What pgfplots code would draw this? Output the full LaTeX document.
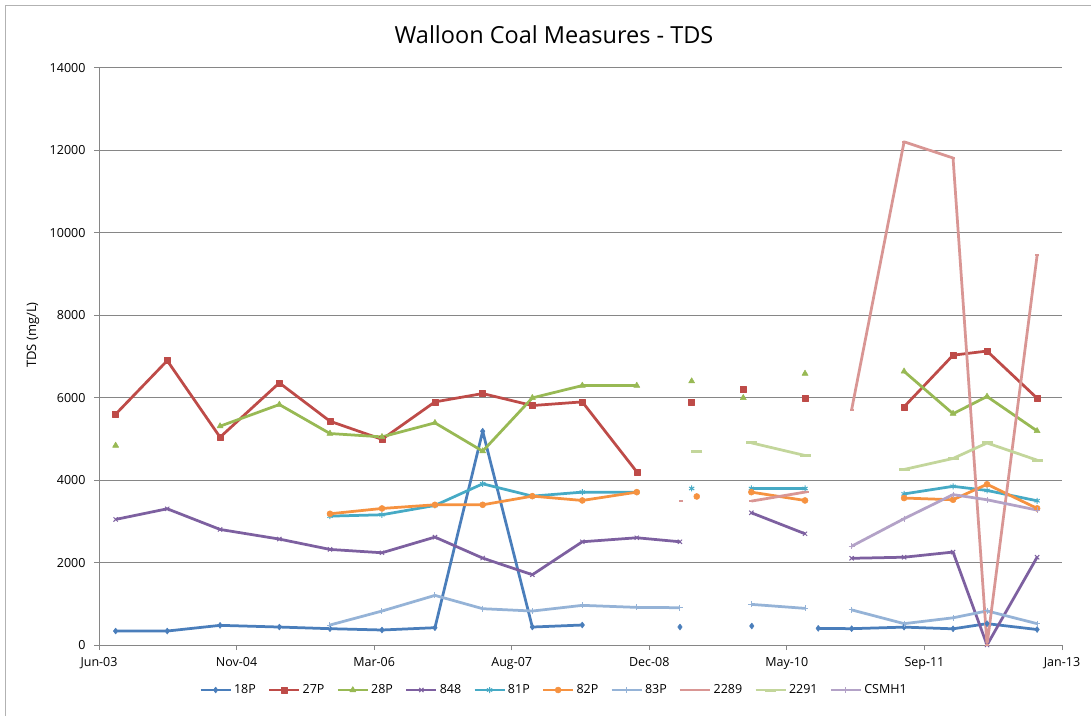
\documentclass[border=0pt]{standalone}
\usepackage{pgfplots}
\pgfplotsset{compat=1.18}
\usepackage{fontspec}
\setmainfont{Open Sans}
\definecolor{cA}{HTML}{4A7EBB}
\definecolor{cB}{HTML}{BE4B48}
\definecolor{cC}{HTML}{98B954}
\definecolor{cD}{HTML}{7D60A0}
\definecolor{cE}{HTML}{46AAC5}
\definecolor{cF}{HTML}{F69240}
\definecolor{cG}{HTML}{95B3D7}
\definecolor{cH}{HTML}{D99694}
\definecolor{cI}{HTML}{C3D69B}
\definecolor{cJ}{HTML}{B3A2C7}
\definecolor{axgray}{HTML}{868686}
\begin{document}
\begin{tikzpicture}[x=1pt,y=1pt]
\useasboundingbox (0,0) rectangle (1091,716);
\fill[white] (0,0) rectangle (1091,716);
\draw[gray!60, line width=1pt] (5.5,0) -- (5.5,710.5) -- (1091,710.5);
\node[font=\fontsize{23.5}{28}\selectfont] at (554,681) {Walloon Coal Measures - TDS};
\node[rotate=90,font=\fontsize{13}{15}\selectfont] at (33,381) {TDS (mg/L)};
\begin{axis}[
  at={(99pt,71pt)}, anchor=south west, scale only axis,
  width=963pt, height=577pt,
  xmin=0, xmax=7, ymin=0, ymax=14000,
  xtick={0,1,2,3,4,5,6,7},
  xticklabels={Jun-03,Nov-04,Mar-06,Aug-07,Dec-08,May-10,Sep-11,Jan-13},
  ytick={0,2000,4000,6000,8000,10000,12000,14000},
  scaled y ticks=false,
  axis x line*=bottom, axis y line*=left,
  axis line style={draw=axgray, line width=1pt, -},
  tick style={draw=axgray, line width=1pt},
  tick align=outside, major tick length=5pt,
  ymajorgrids, grid style={draw=axgray, line width=1pt},
  /pgf/number format/assume math mode=true,
  yticklabel style={/pgf/number format/1000 sep={}, xshift=-5pt},
  xticklabel style={yshift=-4pt},
  ticklabel style={font=\fontsize{12.5}{15}\selectfont},
  unbounded coords=jump,
  every axis plot/.append style={line width=2.75pt, line join=round},
  legend columns=10,
  legend style={draw=none, fill=none, at={(0.4725,-0.078)}, anchor=center,
    font=\fontsize{12.5}{15}\selectfont,
    /tikz/every even column/.append style={column sep=10pt}},
  legend image code/.code={\draw[mark repeat=2,mark phase=2,#1] plot coordinates {(0pt,0pt) (15pt,0pt) (30pt,0pt)};},
]
\addplot[cA, mark=diamond*, mark size=3pt, mark options={solid, line width=0.5pt, fill=cA}] coordinates {
(0.121,339) (0.496,339) (0.880,477) (1.311,436) (1.679,396) (2.057,364) (2.442,420) (2.789,5188) (3.150,436) (3.513,485)
(3.9,nan) (4.223,436) (4.5,nan) (4.745,461) (5.0,nan) (5.228,404) (5.471,396) (5.852,434) (6.208,393) (6.455,518) (6.819,376)};
\addlegendentry{18P}
\addplot[cB, mark=square*, mark size=3pt, mark options={solid, line width=0.5pt, fill=cB}] coordinates {
(0.121,5600) (0.496,6900) (0.880,5042) (1.311,6360) (1.679,5430) (2.057,4990) (2.442,5899) (2.789,6101) (3.150,5810) (3.513,5899) (3.909,4202)
(4.1,nan) (4.308,5899) (4.5,nan) (4.683,6198) (4.9,nan) (5.132,5996) (5.5,nan) (5.852,5779) (6.208,7032) (6.455,7132) (6.819,5988)};
\addlegendentry{27P}
\addplot[cC, mark=triangle*, mark size=3.5pt, mark options={solid, line width=0.5pt, fill=cC}] coordinates {
(0.121,4840) (0.5,nan) (0.880,5309) (1.311,5834) (1.679,5131) (2.057,5050) (2.442,5390) (2.789,4703) (3.150,5996) (3.513,6295) (3.909,6295)
(4.1,nan) (4.308,6400) (4.5,nan) (4.683,5996) (4.9,nan) (5.132,6586) (5.5,nan) (5.852,6639) (6.208,5612) (6.455,6029) (6.819,5194)};
\addlegendentry{28P}
\addplot[cD, mark=x, mark size=3pt, mark options={solid, line width=1pt}] coordinates {
(0.121,3047) (0.496,3305) (0.880,2804) (1.311,2570) (1.679,2319) (2.057,2238) (2.442,2618) (2.789,2109) (3.150,1705) (3.513,2505) (3.909,2602) (4.223,2505)
(4.5,nan) (4.742,3208) (5.132,2699) (5.3,nan) (5.471,2104) (5.852,2130) (6.208,2255) (6.455,0) (6.819,2130)};
\addlegendentry{848}
\addplot[cE, mark=asterisk, mark size=3pt, mark options={solid, line width=1pt}] coordinates {
(1.679,3127) (2.057,3160) (2.442,3386) (2.789,3911) (3.150,3612) (3.513,3709) (3.909,3709)
(4.1,nan) (4.308,3798) (4.5,nan) (4.742,3798) (5.132,3798) (5.5,nan) (5.852,3666) (6.208,3850) (6.455,3750) (6.819,3499)};
\addlegendentry{81P}
\addplot[cF, mark=*, mark size=3pt, mark options={solid, line width=0.5pt, fill=cF}] coordinates {
(1.679,3184) (2.057,3313) (2.442,3402) (2.789,3402) (3.150,3612) (3.513,3507) (3.909,3709)
(4.1,nan) (4.345,3604) (4.5,nan) (4.742,3709) (5.132,3507) (5.5,nan) (5.852,3566) (6.208,3524) (6.455,3900) (6.819,3315)};
\addlegendentry{82P}
\addplot[cG, mark=+, mark size=3pt, mark options={solid, line width=1pt}] coordinates {
(1.679,485) (2.057,824) (2.442,1204) (2.789,881) (3.150,824) (3.513,962) (3.909,913) (4.223,905)
(4.5,nan) (4.742,986) (5.132,889) (5.3,nan) (5.471,852) (5.852,518) (6.208,660) (6.455,827) (6.819,518)};
\addlegendentry{83P}
\addplot[cH, mark=-, mark size=2pt, mark options={solid, line width=2pt}] coordinates {
(4.231,3500) (4.5,nan) (4.742,3491) (5.144,3717) (5.3,nan) (5.471,5712) (5.852,12209) (6.208,11817) (6.455,0) (6.819,9453)};
\addlegendentry{2289}
\addplot[cI, mark=-, mark size=5.5pt, mark options={solid, line width=3pt}] coordinates {
(4.345,4695) (4.5,nan) (4.742,4905) (5.132,4598) (5.5,nan) (5.852,4259) (6.208,4526) (6.455,4902) (6.819,4485)};
\addlegendentry{2291}
\addplot[cJ, mark=+, mark size=3pt, mark options={solid, line width=1pt}] coordinates {
(5.471,2397) (5.852,3065) (6.208,3649) (6.455,3524) (6.819,3274)};
\addlegendentry{CSMH1}
\end{axis}
\end{tikzpicture}
\end{document}
